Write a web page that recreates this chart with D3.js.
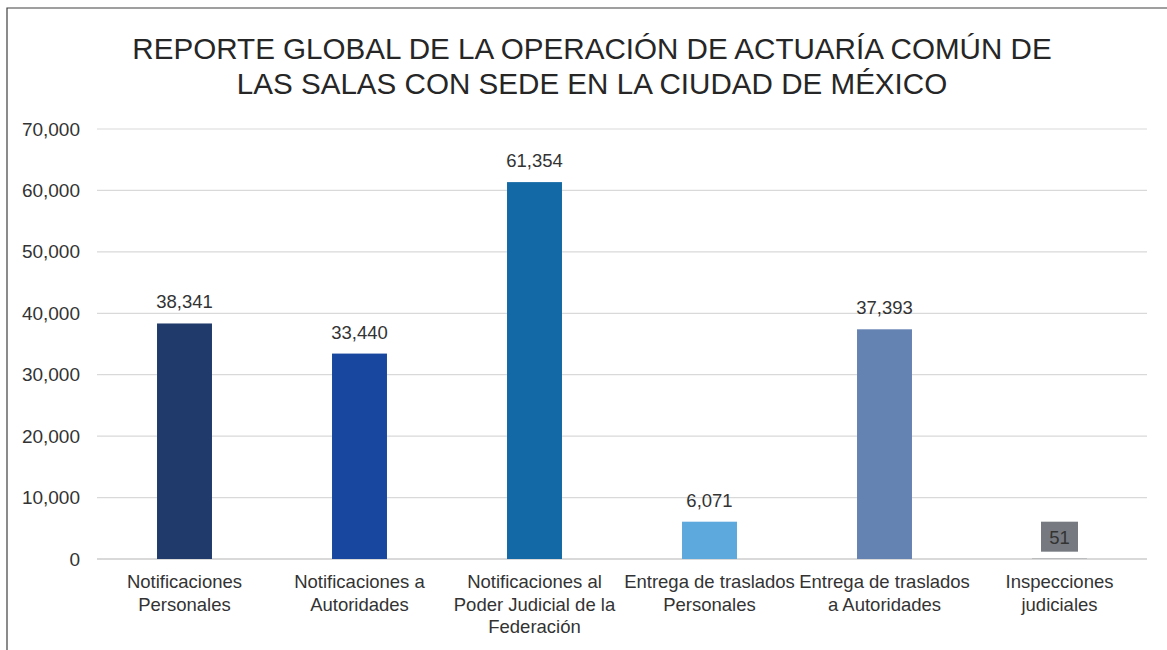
<!DOCTYPE html>
<html><head><meta charset="utf-8">
<script src="https://cdn.jsdelivr.net/npm/d3@7"></script>
<style>body{margin:0;background:#fff}svg{display:block}text{font-family:"Liberation Sans",Arial,sans-serif}</style>
</head><body>
<script>
const titleLines = ["REPORTE GLOBAL DE LA OPERACIÓN DE ACTUARÍA COMÚN DE", "LAS SALAS CON SEDE EN LA CIUDAD DE MÉXICO"];
const categories = [
  ["Notificaciones", "Personales"],
  ["Notificaciones a", "Autoridades"],
  ["Notificaciones al", "Poder Judicial de la", "Federación"],
  ["Entrega de traslados", "Personales"],
  ["Entrega de traslados", "a Autoridades"],
  ["Inspecciones", "judiciales"]
];
const values = [38341, 33440, 61354, 6071, 37393, 51];
const colors = ["#1f3a6b", "#17479e", "#1369a6", "#5da8dc", "#6482b2", "#767a80"];
const yTicks = [0, 10000, 20000, 30000, 40000, 50000, 60000, 70000];

const W = 1167, H = 650;
const svg = d3.select("body").append("svg").attr("width", W).attr("height", H);

svg.append("path").attr("d", "M7,650 V8 H1167").attr("fill", "none").attr("stroke", "#404040").attr("stroke-width", 1.2);

svg.append("g").selectAll("text").data(titleLines).join("text")
  .attr("x", 592).attr("y", (d, i) => 59 + i * 35)
  .attr("text-anchor", "middle").attr("font-size", 29.6).attr("fill", "#262626").text(d => d);

const x = d3.scaleBand().domain(d3.range(categories.length)).range([97, 1147]).paddingInner(0.686).paddingOuter(0.343);
const y = d3.scaleLinear().domain([0, 70000]).range([559, 129]);

const grid = svg.append("g");
grid.selectAll("line").data(yTicks).join("line")
  .attr("x1", 97).attr("x2", 1147).attr("y1", d => y(d)).attr("y2", d => y(d))
  .attr("stroke", "#d9d9d9").attr("stroke-width", d => d === 0 ? 2 : 1.2);

const yAxis = svg.append("g").attr("transform", "translate(80,0)")
  .call(d3.axisLeft(y).tickValues(yTicks).tickSize(0).tickPadding(0).tickFormat(d3.format(",")));
yAxis.select(".domain").remove();
yAxis.selectAll("text").attr("font-size", 19).attr("fill", "#333").attr("font-family", "'Liberation Sans', Arial, sans-serif");

svg.append("g").selectAll("rect").data(values).join("rect")
  .attr("x", (d, i) => x(i)).attr("width", x.bandwidth())
  .attr("y", d => y(d)).attr("height", d => y(0) - y(d))
  .attr("fill", (d, i) => colors[i]);

const lab = svg.append("g");
values.forEach((v, i) => {
  const cx = x(i) + x.bandwidth() / 2;
  if (v < 1000) {
    lab.append("rect").attr("x", cx - 18.5).attr("y", y(v) - 37).attr("width", 37).attr("height", 30).attr("fill", colors[i]);
    lab.append("text").attr("x", cx).attr("y", y(v) - 15).attr("text-anchor", "middle")
      .attr("font-size", 18.5).attr("fill", "#333").text(d3.format(",")(v));
  } else {
    lab.append("text").attr("x", cx).attr("y", y(v) - 15).attr("text-anchor", "middle")
      .attr("font-size", 18.5).attr("fill", "#333").text(d3.format(",")(v));
  }
});

const cat = svg.append("g");
categories.forEach((lines, i) => {
  const cx = x(i) + x.bandwidth() / 2;
  lines.forEach((t, j) => {
    cat.append("text").attr("x", cx).attr("y", 588 + j * 22.5).attr("text-anchor", "middle")
      .attr("font-size", 18.5).attr("fill", "#333").text(t);
  });
});
</script>
</body></html>
